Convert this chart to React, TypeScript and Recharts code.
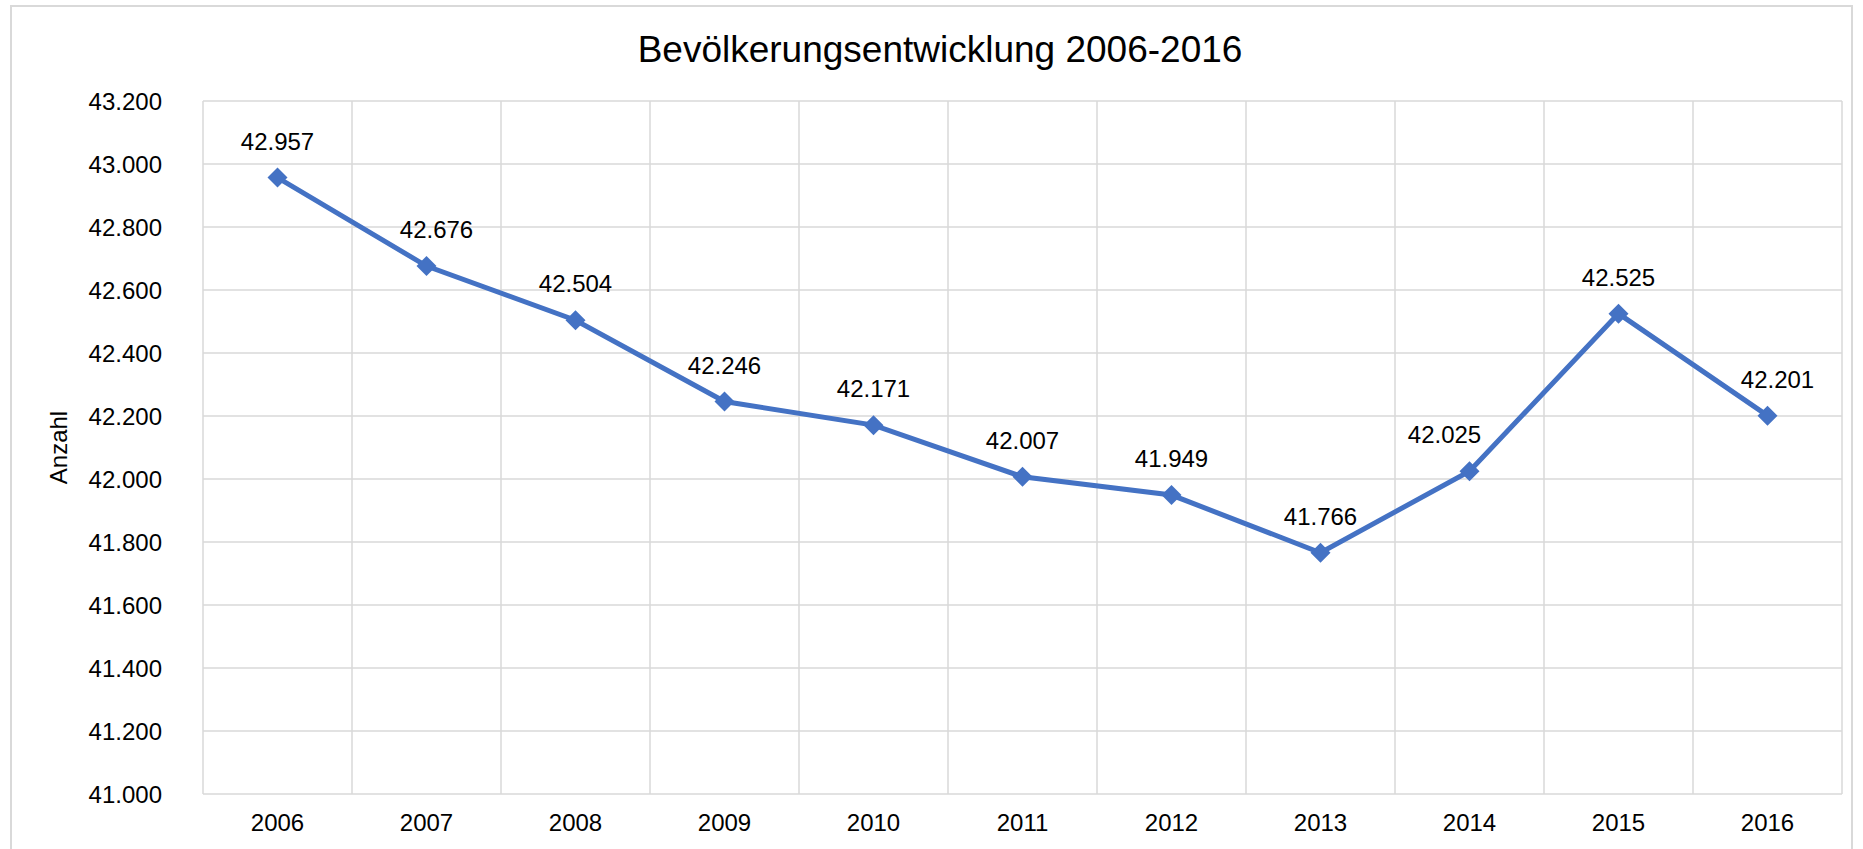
import {
  LineChart,
  Line,
  XAxis,
  YAxis,
  CartesianGrid,
  LabelList,
  Label,
} from "recharts";

const years = ["2006", "2007", "2008", "2009", "2010", "2011", "2012", "2013", "2014", "2015", "2016"];
const population = [42957, 42676, 42504, 42246, 42171, 42007, 41949, 41766, 42025, 42525, 42201];
const yTicks = [41000, 41200, 41400, 41600, 41800, 42000, 42200, 42400, 42600, 42800, 43000, 43200];
const yearSlots = [0, 1, 2, 3, 4, 5, 6, 7, 8, 9, 10];
const gridEdges = [-0.5, 0.5, 1.5, 2.5, 3.5, 4.5, 5.5, 6.5, 7.5, 8.5, 9.5, 10.5];

// labels that Excel had nudged sideways
const labelNudge: Record<string, number> = { "2007": 10, "2014": -25, "2016": 10 };

const data = years.map((year, i) => ({ idx: i, year, value: population[i] }));

const fmt = (v: number) => v.toLocaleString("de-DE");
const FONT = "'Liberation Sans', Arial, sans-serif";
const BLUE = "#4472C4";

const Diamond = (props: any) => {
  const { cx, cy } = props;
  if (cx == null || cy == null) return null;
  const r = 10;
  return (
    <path
      d={`M${cx},${cy - r}L${cx + r},${cy}L${cx},${cy + r}L${cx - r},${cy}Z`}
      fill={BLUE}
    />
  );
};

const ValueLabel = (props: any) => {
  const { x, y, value, index } = props;
  const dx = labelNudge[years[index]] ?? 0;
  return (
    <text
      x={x + dx}
      y={y - 28}
      textAnchor="middle"
      fontSize={24}
      fontFamily={FONT}
      fill="#000"
    >
      {fmt(value)}
    </text>
  );
};

export default function App() {
  return (
    <div
      style={{
        position: "fixed",
        left: 0,
        top: 0,
        width: 1863,
        height: 849,
        background: "#fff",
        overflow: "hidden",
        fontFamily: FONT,
      }}
    >
      <div
        style={{
          position: "absolute",
          left: 10,
          top: 5,
          width: 1843,
          height: 900,
          border: "2px solid #d9d9d9",
          boxSizing: "border-box",
        }}
      />
      <div
        style={{
          position: "absolute",
          left: 0,
          width: 1880,
          top: 27,
          textAlign: "center",
          fontSize: 37,
          color: "#000",
          lineHeight: "46px",
        }}
      >
        Bevölkerungsentwicklung 2006-2016
      </div>
      <div style={{ position: "absolute", left: 0, top: 0 }}>
        <LineChart
          width={1863}
          height={849}
          data={data}
          margin={{ top: 101, right: 21, bottom: 0, left: 0 }}
        >
          <CartesianGrid xAxisId="grid" stroke="#d9d9d9" strokeWidth={1.5} />
          <XAxis
            xAxisId="grid"
            type="number"
            dataKey="idx"
            domain={[-0.5, 10.5]}
            ticks={gridEdges}
            allowDataOverflow
            hide
          />
          <XAxis
            type="number"
            dataKey="idx"
            domain={[-0.5, 10.5]}
            ticks={yearSlots}
            interval={0}
            allowDataOverflow
            height={55}
            axisLine={false}
            tickLine={false}
            tickSize={0}
            tickMargin={20}
            tickFormatter={(v: number) => years[v]}
            tick={{ fontSize: 24, fill: "#000", fontFamily: FONT }}
          />
          <YAxis
            type="number"
            domain={[41000, 43200]}
            ticks={yTicks}
            interval={0}
            width={203}
            axisLine={false}
            tickLine={false}
            tickSize={0}
            tickMargin={41}
            tickFormatter={fmt}
            tick={{ fontSize: 24, fill: "#000", fontFamily: FONT }}
          >
            <Label
              content={({ viewBox }: any) => {
                const cy = viewBox.y + viewBox.height / 2;
                return (
                  <text
                    x={58}
                    y={cy}
                    transform={`rotate(-90 58 ${cy})`}
                    textAnchor="middle"
                    dominantBaseline="central"
                    fontSize={24}
                    fontFamily={FONT}
                    fill="#000"
                  >
                    Anzahl
                  </text>
                );
              }}
            />
          </YAxis>
          <Line
            dataKey="value"
            stroke={BLUE}
            strokeWidth={5}
            dot={<Diamond />}
            activeDot={false}
            isAnimationActive={false}
          >
            <LabelList dataKey="value" content={<ValueLabel />} />
          </Line>
        </LineChart>
      </div>
    </div>
  );
}
